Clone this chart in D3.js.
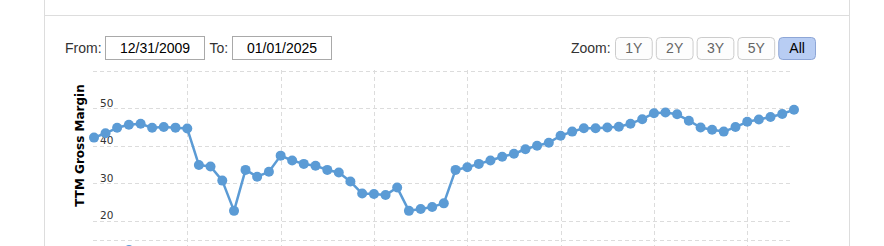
<!DOCTYPE html>
<html><head><meta charset="utf-8">
<script src="https://cdn.jsdelivr.net/npm/d3@7"></script>
<style>
html,body{margin:0;padding:0;background:#fff;}
svg{display:block;font-family:"Liberation Sans",Arial,sans-serif;}
</style></head>
<body>
<svg id="chart" width="884" height="246"></svg>
<script>
const dates = ["2009-12-31","2010-03-31","2010-06-30","2010-09-30","2010-12-31","2011-03-31","2011-06-30","2011-09-30","2011-12-31",
"2012-03-31","2012-06-30","2012-09-30","2012-12-31","2013-03-31","2013-06-30","2013-09-30","2013-12-31",
"2014-03-31","2014-06-30","2014-09-30","2014-12-31","2015-03-31","2015-06-30","2015-09-30","2015-12-31",
"2016-03-31","2016-06-30","2016-09-30","2016-12-31","2017-03-31","2017-06-30","2017-09-30","2017-12-31",
"2018-03-31","2018-06-30","2018-09-30","2018-12-31","2019-03-31","2019-06-30","2019-09-30","2019-12-31",
"2020-03-31","2020-06-30","2020-09-30","2020-12-31","2021-03-31","2021-06-30","2021-09-30","2021-12-31",
"2022-03-31","2022-06-30","2022-09-30","2022-12-31","2023-03-31","2023-06-30","2023-09-30","2023-12-31",
"2024-03-31","2024-06-30","2024-09-30","2024-12-31"];
const grossMargin = [42.2,43.35,44.8,45.6,45.9,44.8,45.0,44.85,44.6,
34.9,34.5,30.75,22.7,33.6,31.8,33.1,37.4,
36.1,35.2,34.7,33.6,32.9,30.5,27.3,27.2,
26.9,28.9,22.7,23.2,23.75,24.7,33.6,34.3,
35.2,36.1,37.1,37.9,39.1,40.05,40.85,42.7,
43.8,44.7,44.7,44.9,45.1,45.9,47.1,48.7,
48.9,48.4,46.7,44.9,44.3,43.8,45.0,46.4,
47.0,47.7,48.5,49.6];
const yTickLabels = [20,30,40,50];
const yGridValues = [15,20,30,40,50,60];
const xGridDates = ["2012-01-01","2014-01-01","2016-01-01","2018-01-01","2020-01-01","2022-01-01","2024-01-01"];
const fromDate = "12/31/2009", toDate = "01/01/2025";
const zoomButtons = ["1Y","2Y","3Y","5Y","All"];
const selectedButton = "All";
const yTitle = "TTM Gross Margin";

const parse = d3.timeParse("%Y-%m-%d");
const data = dates.map((d,i)=>({date:parse(d), v:grossMargin[i]}));
const svg = d3.select("#chart");
const color = "#5b9bd5";

const x = d3.scaleTime().domain([parse("2009-12-31"), parse("2024-12-31")]).range([94, 794]);
const y = d3.scaleLinear().domain([20, 50]).range([221, 108.3]);

// card borders
svg.append("line").attr("x1",44.5).attr("x2",44.5).attr("y1",0).attr("y2",246).attr("stroke","#ddd");
svg.append("line").attr("x1",849.5).attr("x2",849.5).attr("y1",0).attr("y2",246).attr("stroke","#ddd");
svg.append("line").attr("x1",44.5).attr("x2",849.5).attr("y1",15.5).attr("y2",15.5).attr("stroke","#ddd");

// From / To
const ctrl = svg.append("g").attr("font-size",14);
ctrl.append("text").attr("x",65).attr("y",53).attr("fill","#333").text("From:");
ctrl.append("rect").attr("x",105.5).attr("y",36.5).attr("width",99).attr("height",23).attr("fill","#fff").attr("stroke","#a9a9a9");
ctrl.append("text").attr("x",155).attr("y",53).attr("text-anchor","middle").attr("fill","#000").text(fromDate);
ctrl.append("text").attr("x",209.5).attr("y",53).attr("fill","#333").text("To:");
ctrl.append("rect").attr("x",232.5).attr("y",36.5).attr("width",99).attr("height",23).attr("fill","#fff").attr("stroke","#a9a9a9");
ctrl.append("text").attr("x",282).attr("y",53).attr("text-anchor","middle").attr("fill","#000").text(toDate);
ctrl.append("text").attr("x",571).attr("y",53).attr("fill","#333").text("Zoom:");
const bx = d3.scaleBand().domain(zoomButtons).range([615.5, 815.5]).paddingInner(0.1).paddingOuter(0);
zoomButtons.forEach(b=>{
  const sel = b===selectedButton;
  ctrl.append("rect").attr("x",bx(b)).attr("y",37.5).attr("width",bx.bandwidth()).attr("height",22).attr("rx",4)
    .attr("fill", sel?"#b8cdf3":"#fdfdfd").attr("stroke", sel?"#8ea6d6":"#cccccc");
  ctrl.append("text").attr("x",bx(b)+bx.bandwidth()/2).attr("y",53).attr("text-anchor","middle")
    .attr("fill", sel?"#000":"#666").text(b);
});

// grid
const grid = svg.append("g").attr("stroke","#dcdcdc").attr("stroke-dasharray","4,3");
grid.selectAll("line.h").data(yGridValues).join("line").attr("class","h")
  .attr("x1",93).attr("x2",791).attr("y1",d=>Math.round(y(d))+0.5).attr("y2",d=>Math.round(y(d))+0.5);
grid.selectAll("line.v").data(xGridDates).join("line").attr("class","v")
  .attr("x1",d=>Math.round(x(parse(d)))+0.5).attr("x2",d=>Math.round(x(parse(d)))+0.5).attr("y1",70).attr("y2",246);

// y labels
svg.append("g").attr("font-size",10.5).attr("font-family","'DejaVu Sans',Verdana,sans-serif").attr("fill","#333")
  .selectAll("text").data(yTickLabels).join("text")
  .attr("x",100).attr("y",d=>y(d)-1.6).text(d=>d);

// y title
svg.append("text").attr("transform","translate(84,145.5) rotate(-90)").attr("text-anchor","middle")
  .attr("font-family","'DejaVu Sans',Verdana,sans-serif")
  .attr("font-size",12).attr("font-weight","bold").attr("fill","#000").text(yTitle);

// series
svg.append("path").datum(data).attr("fill","none").attr("stroke",color).attr("stroke-width",2.5)
  .attr("stroke-linejoin","round")
  .attr("d", d3.line().x(d=>x(d.date)).y(d=>y(d.v)));
svg.append("g").selectAll("circle").data(data).join("circle")
  .attr("cx",d=>x(d.date)).attr("cy",d=>y(d.v)).attr("r",5).attr("fill",color);

// partially visible legend marker
svg.append("circle").attr("cx",129).attr("cy",250).attr("r",5).attr("fill",color);
</script>
</body></html>
